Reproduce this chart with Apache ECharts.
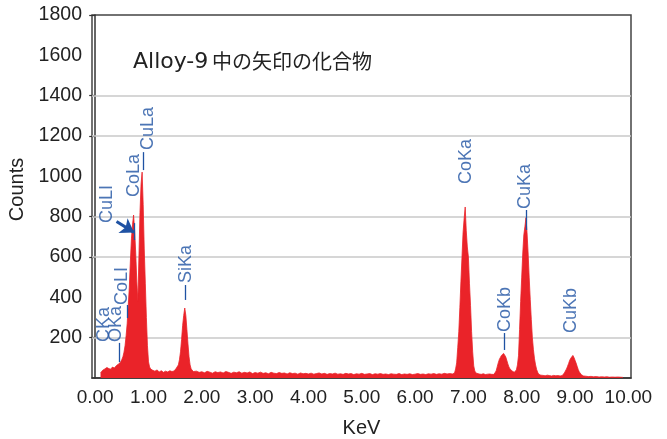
<!DOCTYPE html>
<html>
<head>
<meta charset="utf-8">
<script src="https://cdn.jsdelivr.net/npm/echarts@6/dist/echarts.min.js"></script>
<style>
html, body { margin: 0; padding: 0; background: #fff; }
#main { width: 667px; height: 439px; }
</style>
</head>
<body>
<div id="main"></div>
<script>
const keV = [
  // low energy: C, O, Co L, Cu L
  0.10, 0.12, 0.14, 0.16, 0.18, 0.20, 0.22, 0.24, 0.26, 0.28, 0.30, 0.32, 0.34, 0.36, 0.38, 0.40,
  0.42, 0.44, 0.46, 0.48, 0.50, 0.52, 0.54, 0.56, 0.58, 0.60, 0.62, 0.64, 0.66, 0.68, 0.70, 0.72,
  0.74, 0.76, 0.78, 0.80, 0.82, 0.84, 0.86, 0.88, 0.90, 0.92, 0.94, 0.96, 0.98, 1.00, 1.02, 1.04,
  1.08, 1.12, 1.16, 1.20, 1.24, 1.28, 1.32, 1.36, 1.40, 1.44,
  // Si
  1.46, 1.48, 1.50, 1.52, 1.54, 1.56, 1.58, 1.60, 1.62, 1.64, 1.66, 1.68, 1.70, 1.72, 1.74, 1.76,
  1.78, 1.80, 1.82, 1.84,
  // background
  1.90, 1.95, 2.00, 2.05, 2.10, 2.15, 2.20, 2.25, 2.30, 2.35, 2.40, 2.45, 2.50, 2.55, 2.60, 2.65,
  2.70, 2.75, 2.80, 2.85, 2.90, 2.95, 3.00, 3.05, 3.10, 3.15, 3.20, 3.25, 3.30, 3.35, 3.40, 3.45,
  3.50, 3.55, 3.60, 3.65, 3.70, 3.75, 3.80, 3.85, 3.90, 3.95, 4.00, 4.05, 4.10, 4.15, 4.20, 4.25,
  4.30, 4.35, 4.40, 4.45, 4.50, 4.55, 4.60, 4.65, 4.70, 4.75, 4.80, 4.85, 4.90, 4.95, 5.00, 5.05,
  5.10, 5.15, 5.20, 5.25, 5.30, 5.35, 5.40, 5.45, 5.50, 5.55, 5.60, 5.65, 5.70, 5.75, 5.80, 5.85,
  5.90, 5.95, 6.00, 6.05, 6.10, 6.15, 6.20, 6.25, 6.30, 6.35, 6.40, 6.45, 6.50, 6.55, 6.60, 6.65,
  // Co Ka
  6.70, 6.72, 6.74, 6.76, 6.78, 6.80, 6.82, 6.84, 6.86, 6.88, 6.90, 6.92, 6.94, 6.96, 6.98, 7.00,
  7.02, 7.04, 7.06, 7.08, 7.10, 7.12, 7.14, 7.16,
  7.20, 7.24, 7.28, 7.32, 7.36, 7.40, 7.44,
  // Co Kb, Cu Ka
  7.46, 7.48, 7.50, 7.52, 7.54, 7.56, 7.58, 7.60, 7.62, 7.64, 7.66, 7.68, 7.70, 7.72, 7.74, 7.76,
  7.78, 7.80, 7.82, 7.84, 7.86, 7.88, 7.90, 7.92, 7.94, 7.96, 7.98, 8.00, 8.02, 8.04, 8.06, 8.08,
  8.10, 8.12, 8.14, 8.16, 8.18, 8.20, 8.22, 8.24, 8.26, 8.28, 8.30, 8.32, 8.34, 8.36,
  8.40, 8.44, 8.48, 8.52, 8.56, 8.60, 8.64, 8.68, 8.72,
  // Cu Kb
  8.76, 8.78, 8.80, 8.82, 8.84, 8.86, 8.88, 8.90, 8.92, 8.94, 8.96, 8.98, 9.00, 9.02, 9.04, 9.06,
  9.08, 9.10, 9.12, 9.14, 9.16,
  // tail
  9.20, 9.25, 9.30, 9.35, 9.40, 9.45, 9.50, 9.55, 9.60, 9.65, 9.70, 9.75, 9.80, 9.85, 9.90
];
const counts = [
  25, 30, 38, 34, 45, 40, 52, 58, 46, 50, 44, 54, 60, 50, 56, 62,
  58, 70, 66, 80, 92, 105, 128, 160, 210, 270, 360, 450, 580, 690, 760, 808,
  730, 620, 480, 380, 600, 820, 960, 1021, 860, 640, 470, 300, 160, 80, 55, 45,
  38, 34, 40, 30, 36, 28, 34, 30, 36, 32,
  30, 35, 40, 48, 55, 65, 90, 130, 190, 260, 310, 347, 310, 240, 170, 105,
  65, 45, 38, 32,
  34, 28, 31, 26, 33, 29, 24, 31, 27, 30, 25, 32, 28, 23, 29, 26,
  31, 24, 28, 25, 30, 22, 27, 24, 29, 23, 26, 21, 28, 24, 22, 27,
  23, 25, 20, 26, 22, 24, 19, 25, 21, 23, 20, 24, 19, 22, 25, 20,
  23, 18, 22, 20, 24, 19, 21, 18, 23, 20, 22, 17, 21, 19, 23, 18,
  20, 22, 17, 21, 19, 22, 18, 20, 17, 21, 19, 18, 22, 17, 20, 18,
  21, 17, 19, 22, 18, 20, 17, 21, 19, 22, 18, 21, 19, 23, 20, 22,
  20, 22, 25, 45, 75, 150, 230, 350, 480, 600, 720, 790, 848, 730, 650, 600,
  470, 360, 230, 130, 60, 35, 25, 22,
  20, 18, 21, 17, 19, 20, 18,
  20, 18, 22, 35, 55, 75, 92, 102, 112, 118, 122, 124, 105, 88, 70, 55,
  45, 40, 35, 30, 28, 32, 40, 65, 110, 240, 380, 500, 620, 710, 750, 795,
  720, 620, 500, 390, 290, 200, 140, 95, 65, 42, 28, 18, 15, 14,
  13, 11, 14, 12, 10, 13, 11, 12, 10,
  12, 18, 25, 32, 45, 58, 72, 88, 98, 106, 112, 102, 88, 74, 58, 42,
  30, 22, 16, 12, 10,
  9, 7, 8, 6, 7, 5, 6, 5, 6, 4, 5, 4, 5, 4, 3
];

// peak labels: name, keV of label, count where the rotated text starts
const lineNames = ['CKa', 'OKa', 'CoLI', 'CuLI', 'CoLa', 'CuLa', 'SiKa', 'CoKa', 'CoKb', 'CuKa', 'CuKb'];
const lineKeV   = [0.16, 0.40, 0.50, 0.231, 0.719, 0.991, 1.704, 6.957, 7.68, 8.054, 8.927];
const lineCount = [178, 178, 362, 768, 897, 1130, 471, 962, 228, 838, 223];

// short leader lines: keV, top count, bottom count
const leaderKeV = [0.447, 0.606, 0.728, 0.897, 1.685, 7.67, 8.08];
const leaderTop = [174, 362, 768, 1120, 461, 223, 833];
const leaderBot = [79, 297, 684, 1031, 387, 139, 734];

// arrow pointing at Cu Ll
const arrowFrom = [0.40, 776];
const arrowTo = [0.728, 722];

const gridValues = [200, 600, 800, 1200, 1400];
const yTickValues = [200, 600, 800, 1200, 1400, 1800];
const xLabelValues = [0, 1, 2, 3, 4, 5, 6, 7, 8, 9, 10];

const red = '#ea2329';
const blue = '#1f52a3';
const ink = '#222';

var chart = echarts.init(document.getElementById('main'));

var option = {
  animation: false,
  backgroundColor: '#fff',
  grid: {
    left: 92, right: 36, top: 15, bottom: 61,
    show: true,
    borderColor: '#444',
    borderWidth: 1.5,
    outerBoundsMode: 'none'
  },
  xAxis: {
    type: 'value',
    min: -0.06,
    max: 10.05,
    name: 'KeV',
    nameLocation: 'middle',
    nameGap: 40,
    nameTextStyle: { fontSize: 20, color: ink, fontFamily: 'Liberation Sans' },
    axisLine: { lineStyle: { color: '#333', width: 1.5 } },
    axisTick: { show: false },
    splitLine: { show: false },
    axisLabel: {
      customValues: xLabelValues,
      fontSize: 19,
      color: ink,
      fontFamily: 'Liberation Sans',
      margin: 10,
      formatter: function (v) { return v.toFixed(2); }
    }
  },
  yAxis: {
    type: 'value',
    min: 0,
    max: 1800,
    interval: 200,
    name: 'Counts',
    nameLocation: 'middle',
    nameGap: 58,
    nameTextStyle: { fontSize: 20, color: ink, fontFamily: 'Liberation Sans', padding: [0, 0, 0, 14] },
    axisLine: { show: true, lineStyle: { color: '#333', width: 1.5 } },
    axisTick: {
      show: true,
      customValues: yTickValues,
      length: 6,
      lineStyle: { color: '#333', width: 1.2 }
    },
    splitLine: { show: false },
    axisLabel: {
      fontSize: 19.5,
      color: ink,
      fontFamily: 'Liberation Sans',
      margin: 10,
      formatter: function (v) { return v === 0 ? '' : String(v); }
    }
  },
  graphic: [
    {
      type: 'text', left: 133, top: 51,
      style: { text: 'Alloy-9', font: '22px "DejaVu Sans"', fill: ink }
    },
    {
      type: 'text', left: 212, top: 51,
      style: { text: '中の矢印の化合物', font: '20px "Noto Sans CJK JP"', fill: ink }
    }
  ],
  series: [
    {
      name: 'spectrum',
      type: 'line',
      data: keV.map(function (e, i) { return [e, counts[i]]; }),
      symbol: 'none',
      z: 2,
      lineStyle: { color: red, width: 0.8 },
      areaStyle: { color: red, opacity: 1 },
      silent: true,
      markLine: {
        silent: true,
        z: 1,
        symbol: ['none', 'none'],
        label: { show: false },
        lineStyle: { color: '#c8c8c8', width: 1.5, type: 'solid' },
        emphasis: { disabled: true },
        data: gridValues.map(function (v) { return { yAxis: v }; })
      }
    },
    {
      name: 'labels',
      type: 'scatter',
      data: lineKeV.map(function (e, i) { return [e, lineCount[i]]; }),
      symbolSize: 1,
      itemStyle: { color: 'rgba(0,0,0,0)' },
      z: 5,
      silent: true,
      label: {
        show: true,
        position: 'inside',
        rotate: 90,
        align: 'left',
        verticalAlign: 'middle',
        color: blue,
        fontSize: 18,
        fontFamily: 'Liberation Sans',
        formatter: function (p) { return lineNames[p.dataIndex]; }
      },
      markLine: {
        silent: true,
        symbol: ['none', 'none'],
        label: { show: false },
        lineStyle: { color: blue, width: 1.3, type: 'solid' },
        emphasis: { disabled: true },
        data: leaderKeV.map(function (e, i) {
          return [{ coord: [e, leaderTop[i]] }, { coord: [e, leaderBot[i]] }];
        })
      }
    },
    {
      name: 'arrow',
      type: 'scatter',
      data: [],
      z: 6,
      silent: true,
      markLine: {
        silent: true,
        symbol: ['none', 'arrow'],
        symbolSize: 13,
        label: { show: false },
        lineStyle: { color: blue, width: 3, type: 'solid' },
        emphasis: { disabled: true },
        data: [[{ coord: arrowFrom }, { coord: arrowTo }]]
      }
    }
  ]
};

chart.setOption(option);
</script>
</body>
</html>
